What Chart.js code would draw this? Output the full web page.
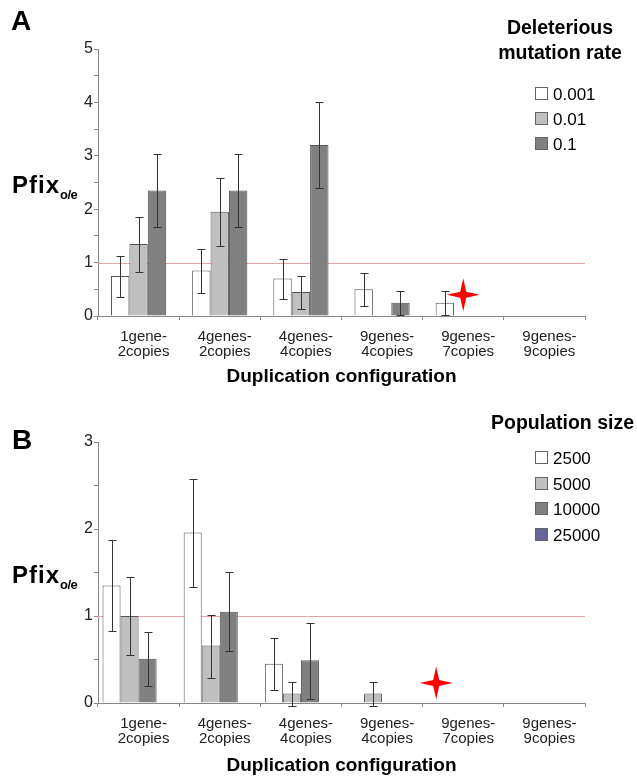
<!DOCTYPE html>
<html>
<head>
<meta charset="utf-8">
<script src="https://cdn.jsdelivr.net/npm/chart.js@4.4.1/dist/chart.umd.min.js"></script>
<style>
  body { margin:0; background:#fff; width:637px; height:777px; position:relative; overflow:hidden;
         font-family:"Liberation Sans", Arial, sans-serif; color:#000; }
  canvas { position:absolute; left:0; display:block; }
  #ca { top:0; }
  #cb { top:388px; }
  .t { position:absolute; white-space:nowrap; font-weight:bold; line-height:1; }
  .letter { font-size:28px; }
  .pfix { font-size:24px; letter-spacing:1px; }
  .pfix sub { font-size:13px; letter-spacing:-0.5px; vertical-align:baseline; position:relative; top:6px; }
  .ltitle { font-size:19.5px; text-align:center; line-height:25px; }
  .item { position:absolute; left:535px; height:20px; line-height:20px; font-size:17px; white-space:nowrap; }
  .box { display:inline-block; width:11px; height:11px; border:1px solid #666; vertical-align:middle; margin-right:5px; position:relative; top:-2px; }
</style>
</head>
<body>
<canvas id="ca" width="637" height="388"></canvas>
<canvas id="cb" width="637" height="389"></canvas>

<div class="t letter" style="left:11px;top:7px;">A</div>
<div class="t letter" style="left:12px;top:426px;">B</div>
<div class="t pfix" style="left:12px;top:173px;">Pfix<sub>o/e</sub></div>
<div class="t pfix" style="left:12px;top:563px;">Pfix<sub>o/e</sub></div>
<div class="t ltitle" id="ltA" style="left:480px;width:160px;top:15px;"></div>
<div class="t ltitle" id="ltB" style="right:3px;top:410px;"></div>
<div id="legA"></div>
<div id="legB"></div>

<script>
// ---------- shared ----------
const categories = [
  ['1gene-', '2copies'], ['4genes-', '2copies'], ['4genes-', '4copies'],
  ['9genes-', '4copies'], ['9genes-', '7copies'], ['9genes-', '9copies']
];
const xTitle = 'Duplication configuration';
const refLine = 1;
const seriesColors = ['#ffffff', '#c0c0c0', '#808080', '#666699'];

// ---------- panel A : deleterious mutation rate ----------
const legendTitleA = ['Deleterious', 'mutation rate'];
const mutationRates = ['0.001', '0.01', '0.1'];
const a_0001    = [0.75, 0.85, 0.70, 0.50, 0.25, null];
const a_0001_lo = [0.36, 0.43, 0.32, 0.18, 0.01, null];
const a_0001_hi = [1.13, 1.26, 1.07, 0.81, 0.47, null];
const a_001     = [1.35, 1.95, 0.45, null, null, null];
const a_001_lo  = [0.83, 1.32, 0.14, null, null, null];
const a_001_hi  = [1.86, 2.58, 0.74, null, null, null];
const a_01      = [2.35, 2.35, 3.20, 0.25, null, null];
const a_01_lo   = [1.66, 1.66, 2.40, 0.01, null, null];
const a_01_hi   = [3.03, 3.03, 4.00, 0.47, null, null];
const yMaxA = 5;
const starA = { dataset: 1, index: 4, value: 0.40 };

// ---------- panel B : population size ----------
const legendTitleB = ['Population size'];
const popSizes = ['2500', '5000', '10000', '25000'];
const b_2500     = [1.35, 1.96, 0.45, null, null, null];
const b_2500_lo  = [0.83, 1.33, 0.15, null, null, null];
const b_2500_hi  = [1.87, 2.58, 0.75, null, null, null];
const b_5000     = [1.00, 0.66, 0.11, 0.11, null, null];
const b_5000_lo  = [0.55, 0.29, -0.03, -0.04, null, null];
const b_5000_hi  = [1.45, 1.01, 0.24, 0.24, null, null];
const b_10000    = [0.51, 1.05, 0.49, null, null, null];
const b_10000_lo = [0.19, 0.60, 0.05, null, null, null];
const b_10000_hi = [0.82, 1.51, 0.92, null, null, null];
const b_25000    = [null, null, null, null, null, null];
const yMaxB = 3;
const starB = { dataset: 0, index: 4, value: 0.23 };

Chart.defaults.font.family = '"Liberation Sans", Arial, sans-serif';
Chart.defaults.color = '#222';

function drawStar(ctx, x, y, R, w) {
  ctx.save();
  ctx.fillStyle = '#ff0000';
  ctx.beginPath();
  ctx.moveTo(x, y - R);
  ctx.lineTo(x + w, y - w);
  ctx.lineTo(x + R, y);
  ctx.lineTo(x + w, y + w);
  ctx.lineTo(x, y + R);
  ctx.lineTo(x - w, y + w);
  ctx.lineTo(x - R, y);
  ctx.lineTo(x - w, y - w);
  ctx.closePath();
  ctx.fill();
  ctx.restore();
}

const overlay = {
  id: 'overlay',
  beforeDatasetsDraw(chart, args, opts) {
    const ctx = chart.ctx, a = chart.chartArea;
    const y = Math.round(chart.scales.y.getPixelForValue(opts.ref)) + 0.5;
    ctx.save();
    ctx.strokeStyle = '#eaa4a4';
    ctx.lineWidth = 1;
    ctx.beginPath(); ctx.moveTo(a.left, y); ctx.lineTo(a.right, y); ctx.stroke();
    ctx.restore();
  },
  afterDatasetsDraw(chart, args, opts) {
    const ctx = chart.ctx, ys = chart.scales.y;
    ctx.save();
    ctx.strokeStyle = '#333';
    ctx.lineWidth = 1;
    chart.data.datasets.forEach((ds, di) => {
      if (!ds.errLo) return;
      const meta = chart.getDatasetMeta(di);
      ds.errLo.forEach((lo, i) => {
        const hi = ds.errHi[i];
        if (lo == null || hi == null) return;
        const x = Math.round(meta.data[i].x) + 0.5;
        const y1 = Math.round(ys.getPixelForValue(lo)) + 0.5;
        const y2 = Math.round(ys.getPixelForValue(hi)) + 0.5;
        ctx.beginPath();
        ctx.moveTo(x, y1); ctx.lineTo(x, y2);
        ctx.moveTo(x - 4, y1); ctx.lineTo(x + 4, y1);
        ctx.moveTo(x - 4, y2); ctx.lineTo(x + 4, y2);
        ctx.stroke();
      });
    });
    ctx.restore();
    const s = opts.star;
    const sx = chart.getDatasetMeta(s.dataset).data[s.index].x;
    drawStar(ctx, sx, ys.getPixelForValue(s.value), 16.5, 3);
  }
};

function makeDatasets(labels, values, los, his) {
  return labels.map((lab, k) => ({
    label: lab,
    data: values[k],
    errLo: los[k],
    errHi: his[k],
    backgroundColor: seriesColors[k],
    borderColor: '#555',
    borderWidth: 1,
    barPercentage: 1.0
  }));
}

function makeChart(id, datasets, yMax, catPct, topPad, xAxisH, star) {
  datasets.forEach(d => d.categoryPercentage = catPct);
  return new Chart(document.getElementById(id), {
    type: 'bar',
    data: { labels: categories, datasets },
    plugins: [overlay],
    options: {
      responsive: false, animation: false, devicePixelRatio: 1,
      layout: { padding: { left: 0, right: 52, top: topPad, bottom: 0 } },
      plugins: {
        legend: { display: false }, tooltip: { enabled: false },
        overlay: { ref: refLine, star }
      },
      scales: {
        x: {
          grid: { display: true, drawOnChartArea: false, drawTicks: true, tickLength: 4, color: '#888', offset: true },
          border: { color: '#888', width: 1 },
          ticks: { font: { size: 15, lineHeight: 0.95 }, color: '#222', padding: 10, labelOffset: 5, maxRotation: 0, autoSkip: false },
          title: { display: true, text: xTitle, font: { size: 19, weight: 'bold', lineHeight: 1.2 }, color: '#000', padding: 0 },
          afterFit: s => { s.height = xAxisH; }
        },
        y: {
          min: 0, max: yMax,
          grid: { display: true, drawOnChartArea: false, drawTicks: true, tickLength: 4, color: '#888' },
          border: { color: '#888', width: 1 },
          ticks: {
            stepSize: 0.5, font: { size: 16 }, color: '#222', padding: 1,
            callback: v => (Math.abs(v - Math.round(v)) < 1e-9 ? String(Math.round(v)) : '')
          },
          afterFit: s => { s.width = 98; }
        }
      }
    }
  });
}

makeChart('ca',
  makeDatasets(mutationRates, [a_0001, a_001, a_01], [a_0001_lo, a_001_lo, a_01_lo], [a_0001_hi, a_001_hi, a_01_hi]),
  yMaxA, 0.68, 49, 72, starA);

makeChart('cb',
  makeDatasets(popSizes, [b_2500, b_5000, b_10000, b_25000], [b_2500_lo, b_5000_lo, b_10000_lo, null], [b_2500_hi, b_5000_hi, b_10000_hi, null]),
  yMaxB, 0.889, 54, 74, starB);

// ---------- HTML legends ----------
document.getElementById('ltA').innerHTML = legendTitleA.join('<br>');
document.getElementById('ltB').innerHTML = legendTitleB.join('<br>');
function buildLegend(elId, labels, firstTop, step) {
  const el = document.getElementById(elId);
  labels.forEach((lab, k) => {
    const d = document.createElement('div');
    d.className = 'item';
    d.style.top = (firstTop + k * step) + 'px';
    const b = document.createElement('span');
    b.className = 'box';
    b.style.background = seriesColors[k];
    d.appendChild(b);
    d.appendChild(document.createTextNode(lab));
    el.appendChild(d);
  });
}
buildLegend('legA', mutationRates, 85, 25);
buildLegend('legB', popSizes, 449, 25.5);
</script>
</body>
</html>
